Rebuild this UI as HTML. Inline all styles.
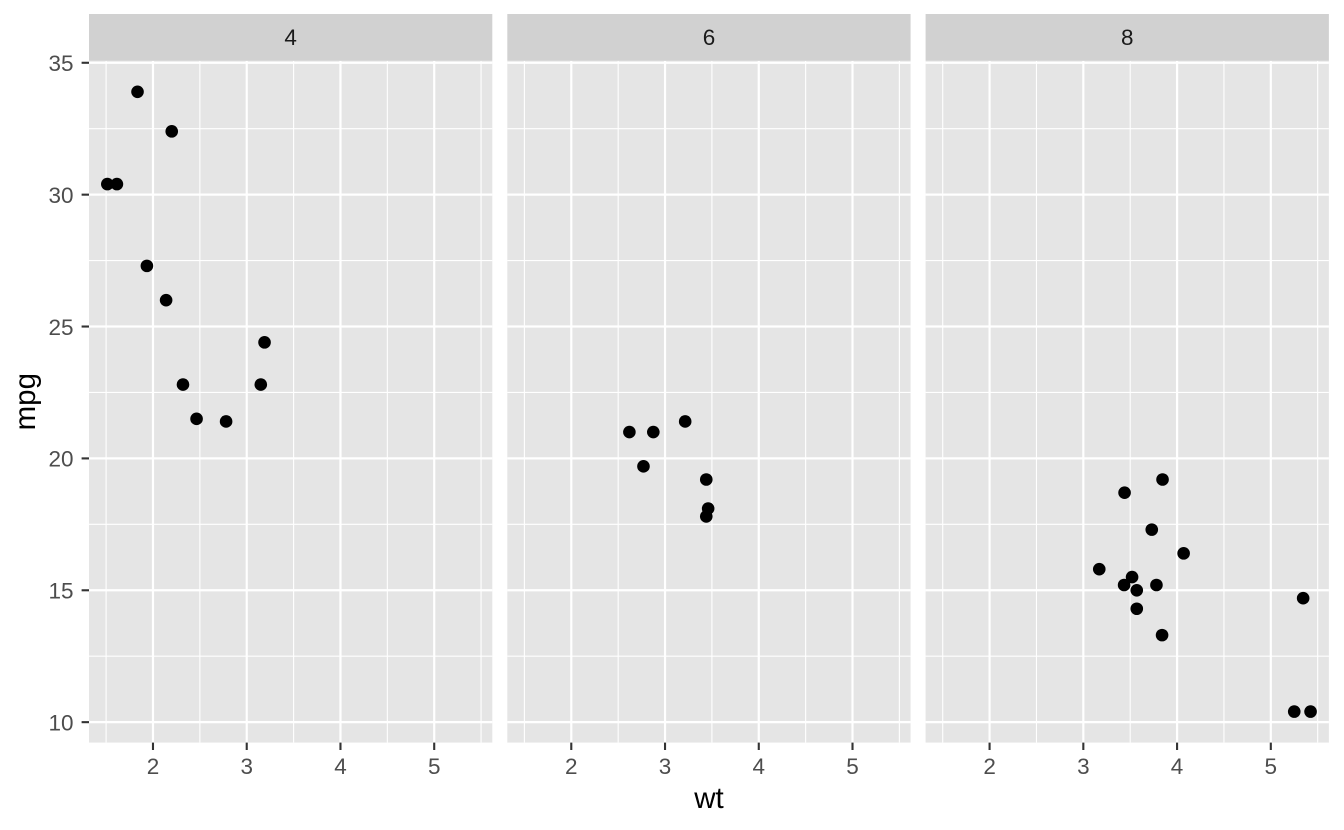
<!DOCTYPE html>
<html><head><meta charset="utf-8"><style>
html,body{margin:0;padding:0;background:#fff;}
svg{display:block;}
text{font-family:"Liberation Sans",Arial,sans-serif;}
</style></head><body>
<svg width="1344" height="830" viewBox="0 0 1344 830" xmlns="http://www.w3.org/2000/svg">
<defs>
<g id="pbg">
<rect x="89" y="60.8" width="403.3" height="681.8" fill="#E5E5E5"/>
<g stroke="#FFFFFF" stroke-width="1.1">
<line x1="89" x2="492.3" y1="656.22" y2="656.22"/>
<line x1="89" x2="492.3" y1="524.35" y2="524.35"/>
<line x1="89" x2="492.3" y1="392.47" y2="392.47"/>
<line x1="89" x2="492.3" y1="260.6" y2="260.6"/>
<line x1="89" x2="492.3" y1="128.72" y2="128.72"/>
<line y1="60.8" y2="742.6" x1="106.1" x2="106.1"/>
<line y1="60.8" y2="742.6" x1="199.86" x2="199.86"/>
<line y1="60.8" y2="742.6" x1="293.6" x2="293.6"/>
<line y1="60.8" y2="742.6" x1="387.34" x2="387.34"/>
<line y1="60.8" y2="742.6" x1="481.08" x2="481.08"/>
</g>
<g stroke="#FFFFFF" stroke-width="2.2">
<line x1="89" x2="492.3" y1="722.16" y2="722.16"/>
<line x1="89" x2="492.3" y1="590.28" y2="590.28"/>
<line x1="89" x2="492.3" y1="458.41" y2="458.41"/>
<line x1="89" x2="492.3" y1="326.53" y2="326.53"/>
<line x1="89" x2="492.3" y1="194.66" y2="194.66"/>
<line x1="89" x2="492.3" y1="62.78" y2="62.78"/>
<line y1="60.8" y2="742.6" x1="152.98" x2="152.98"/>
<line y1="60.8" y2="742.6" x1="246.73" x2="246.73"/>
<line y1="60.8" y2="742.6" x1="340.47" x2="340.47"/>
<line y1="60.8" y2="742.6" x1="434.21" x2="434.21"/>
</g>
<rect x="89" y="14" width="403.3" height="46.8" fill="#D1D1D1"/>
<g stroke="#333333" stroke-width="2.1">
<line y1="742.6" y2="750" x1="152.98" x2="152.98"/>
<line y1="742.6" y2="750" x1="246.73" x2="246.73"/>
<line y1="742.6" y2="750" x1="340.47" x2="340.47"/>
<line y1="742.6" y2="750" x1="434.21" x2="434.21"/>
</g>
<g fill="#4D4D4D" font-size="22.5" text-anchor="middle">
<text x="152.98" y="774">2</text>
<text x="246.73" y="774">3</text>
<text x="340.47" y="774">4</text>
<text x="434.21" y="774">5</text>
</g>
</g>
</defs>

<use href="#pbg"/>
<use href="#pbg" transform="translate(418.3,0)"/>
<use href="#pbg" transform="translate(836.6,0)"/>

<g fill="#1A1A1A" font-size="22.5" text-anchor="middle">
<text x="290.65" y="45">4</text>
<text x="708.95" y="45">6</text>
<text x="1127.25" y="45">8</text>
</g>

<!-- y axis -->
<g stroke="#333333" stroke-width="2.1">
<line x1="81.6" x2="89" y1="722.16" y2="722.16"/>
<line x1="81.6" x2="89" y1="590.28" y2="590.28"/>
<line x1="81.6" x2="89" y1="458.41" y2="458.41"/>
<line x1="81.6" x2="89" y1="326.53" y2="326.53"/>
<line x1="81.6" x2="89" y1="194.66" y2="194.66"/>
<line x1="81.6" x2="89" y1="62.78" y2="62.78"/>
</g>
<g fill="#4D4D4D" font-size="22.5" text-anchor="end">
<text x="73.5" y="730.4">10</text>
<text x="73.5" y="598.5">15</text>
<text x="73.5" y="466.6">20</text>
<text x="73.5" y="334.8">25</text>
<text x="73.5" y="202.9">30</text>
<text x="73.5" y="71">35</text>
</g>

<text x="709" y="808" font-size="29.5" fill="#000" text-anchor="middle">wt</text>
<text transform="translate(35,401.7) rotate(-90)" font-size="29.5" fill="#000" text-anchor="middle">mpg</text>

<g fill="#000">
<!-- cyl 4 -->
<circle cx="182.98" cy="384.56" r="6.3"/>
<circle cx="264.54" cy="342.36" r="6.3"/>
<circle cx="260.79" cy="384.56" r="6.3"/>
<circle cx="171.73" cy="131.36" r="6.3"/>
<circle cx="116.89" cy="184.11" r="6.3"/>
<circle cx="137.52" cy="91.8" r="6.3"/>
<circle cx="196.57" cy="418.85" r="6.3"/>
<circle cx="146.89" cy="265.87" r="6.3"/>
<circle cx="166.11" cy="300.16" r="6.3"/>
<circle cx="107.33" cy="184.11" r="6.3"/>
<circle cx="226.1" cy="421.48" r="6.3"/>
<!-- cyl 6 -->
<circle cx="629.4" cy="432.03" r="6.3"/>
<circle cx="653.31" cy="432.03" r="6.3"/>
<circle cx="685.18" cy="421.48" r="6.3"/>
<circle cx="708.15" cy="508.52" r="6.3"/>
<circle cx="706.27" cy="479.51" r="6.3"/>
<circle cx="706.27" cy="516.43" r="6.3"/>
<circle cx="643.47" cy="466.32" r="6.3"/>
<!-- cyl 8 -->
<circle cx="1124.57" cy="492.7" r="6.3"/>
<circle cx="1136.76" cy="608.75" r="6.3"/>
<circle cx="1183.63" cy="553.36" r="6.3"/>
<circle cx="1151.76" cy="529.62" r="6.3"/>
<circle cx="1156.44" cy="585.01" r="6.3"/>
<circle cx="1294.25" cy="711.61" r="6.3"/>
<circle cx="1310.56" cy="711.61" r="6.3"/>
<circle cx="1303.15" cy="598.2" r="6.3"/>
<circle cx="1132.07" cy="577.1" r="6.3"/>
<circle cx="1124.1" cy="585.01" r="6.3"/>
<circle cx="1162.07" cy="635.12" r="6.3"/>
<circle cx="1162.54" cy="479.51" r="6.3"/>
<circle cx="1099.26" cy="569.18" r="6.3"/>
<circle cx="1136.76" cy="590.28" r="6.3"/>
</g>
</svg>
</body></html>
